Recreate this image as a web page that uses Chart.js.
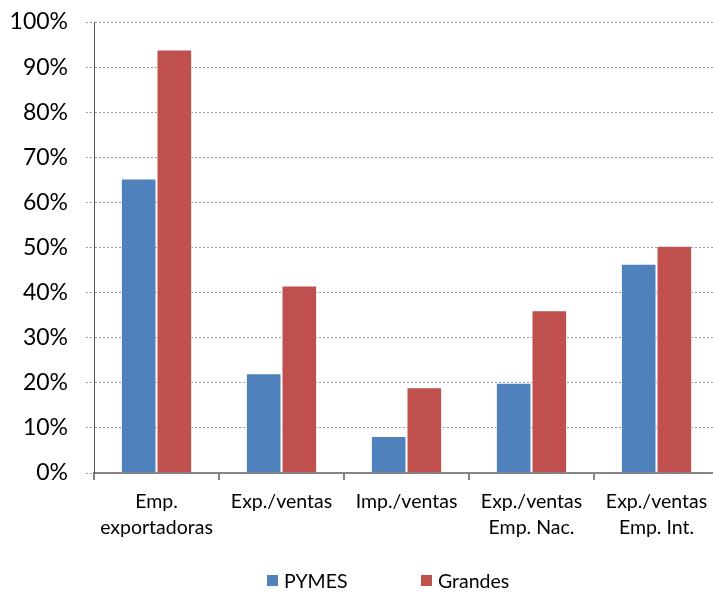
<!DOCTYPE html>
<html>
<head>
<meta charset="utf-8">
<script src="https://cdn.jsdelivr.net/npm/chart.js@4.4.1/dist/chart.umd.min.js"></script>
<style>
  html, body { margin: 0; padding: 0; background: #fff; overflow: hidden; width: 713px; height: 592px; }
  #wrap { position: relative; width: 720px; height: 592px; }
  #c { position: absolute; left: 0; top: 0; }
  #legend { position: absolute; left: 0; top: 569px; width: 720px; height: 22px; font-family: Lato, sans-serif; font-size: 19.5px; color: #000; }
  .li { position: absolute; top: 0; height: 22px; display: flex; align-items: center; white-space: nowrap; }
  .sw { width: 11px; height: 11px; margin-right: 6px; }
</style>
</head>
<body>
<div id="wrap">
  <canvas id="c" width="720" height="592"></canvas>
  <div id="legend"></div>
</div>
<script>
const categories = [
  ['Emp.', 'exportadoras'],
  'Exp./ventas',
  'Imp./ventas',
  ['Exp./ventas', 'Emp. Nac.'],
  ['Exp./ventas', 'Emp. Int.']
];
const seriesNames = ['PYMES', 'Grandes'];
const pymesValues = [65.3, 22.1, 8.2, 20.0, 46.4];
const grandesValues = [93.9, 41.6, 19.0, 36.1, 50.4];
const yTickValues = [0, 10, 20, 30, 40, 50, 60, 70, 80, 90, 100];

const legendLefts = [267, 421];

const htmlLegend = {
  id: 'htmlLegend',
  afterUpdate(chart) {
    const box = document.getElementById('legend');
    box.innerHTML = '';
    const items = chart.options.plugins.legend.labels.generateLabels(chart);
    items.forEach((item, i) => {
      const li = document.createElement('div');
      li.className = 'li';
      li.style.left = legendLefts[i] + 'px';
      const sw = document.createElement('span');
      sw.className = 'sw';
      sw.style.background = item.fillStyle;
      const tx = document.createElement('span');
      tx.textContent = item.text;
      li.appendChild(sw);
      li.appendChild(tx);
      box.appendChild(li);
    });
  }
};

new Chart(document.getElementById('c'), {
  type: 'bar',
  data: {
    labels: categories,
    datasets: [
      { label: seriesNames[0], data: pymesValues, backgroundColor: '#4F81BD', borderColor: 'rgba(255,255,255,0.5)', borderWidth: 1 },
      { label: seriesNames[1], data: grandesValues, backgroundColor: '#C0504D', borderColor: 'rgba(255,255,255,0.5)', borderWidth: 1 }
    ]
  },
  options: {
    responsive: false,
    animation: false,
    layout: { padding: { top: 22, right: 1, bottom: 0, left: 0 } },
    plugins: {
      legend: { display: false },
      tooltip: { enabled: false }
    },
    datasets: { bar: { categoryPercentage: 0.57, barPercentage: 1.0 } },
    scales: {
      x: {
        afterFit(scale) { scale.height = 119; scale.paddingLeft = 0; scale.paddingRight = 0; },
        grid: { offset: true, drawOnChartArea: false, tickLength: 7, color: '#868686', lineWidth: 2 },
        border: { color: '#868686', width: 2 },
        ticks: { color: '#000', font: { family: 'Lato', size: 19.5, lineHeight: 1.34 }, padding: 9, maxRotation: 0, autoSkip: false }
      },
      y: {
        min: 0, max: 100,
        afterFit(scale) { scale.width = 94; scale.paddingTop = 0; scale.paddingBottom = 0; },
        afterBuildTicks(scale) { scale.ticks = yTickValues.map(v => ({ value: v })); },
        grid: { color: '#9a9a9a', lineWidth: 1, tickLength: 8, tickBorderDash: [2, 2] },
        border: { color: '#555', width: 1, dash: [2, 2] },
        ticks: { color: '#000', font: { family: 'Lato', size: 23 }, padding: 18, callback: v => v + '%' }
      }
    }
  },
  plugins: [htmlLegend]
});
</script>
</body>
</html>
